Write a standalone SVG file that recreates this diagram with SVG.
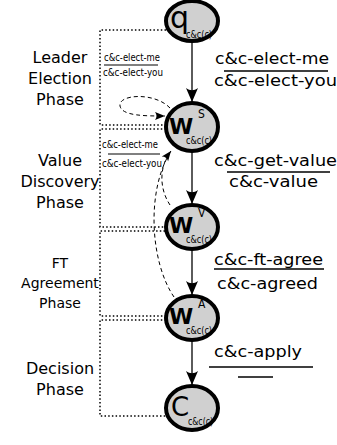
<svg xmlns="http://www.w3.org/2000/svg" width="337" height="445" viewBox="0 0 337 445">
  <defs>
    <style>
      .node ellipse { fill: #d0d0d0; stroke: #000; stroke-width: 4; }
      .big { font-family: "DejaVu Sans", "Liberation Sans", sans-serif; fill: #000; }
      .w { font-family: "DejaVu Sans", "Liberation Sans", sans-serif; font-weight: bold; font-size: 22px; fill: #000; }
      .cond { font-family: "DejaVu Sans Condensed", "DejaVu Sans", "Liberation Sans Narrow", sans-serif; font-stretch: condensed; fill: #000; }
      .phase { font-family: "DejaVu Sans", "Liberation Sans", sans-serif; font-size: 16px; fill: #000; text-anchor: middle; }
      .msg { font-family: "DejaVu Sans", "Liberation Sans", sans-serif; font-size: 16px; fill: #000; }
      .small { font-family: "DejaVu Sans Condensed", "DejaVu Sans", "Liberation Sans Narrow", sans-serif; font-stretch: condensed; font-size: 11px; fill: #000; }
      .bar { stroke: #000; stroke-width: 1.5; }
      .sbar { stroke: #000; stroke-width: 1; }
      .edge { stroke: #333; stroke-width: 1.6; fill: none; marker-end: url(#arrow); }
      .dash { stroke: #000; stroke-width: 1; fill: none; stroke-dasharray: 4 3; }
      .dot { stroke: #000; stroke-width: 1.5; fill: none; stroke-dasharray: 1.5 2.2; }
    </style>
    <marker id="arrow" markerUnits="userSpaceOnUse" markerWidth="16" markerHeight="14" refX="0" refY="0" viewBox="-15 -7 16 14" orient="auto">
      <path d="M0,0 L-14,-6 C-11,-2 -11,2 -14,6 Z" fill="#000"/>
    </marker>
    <marker id="arrowSmall" markerUnits="userSpaceOnUse" markerWidth="12" markerHeight="10" refX="0" refY="0" viewBox="-11 -5 12 10" orient="auto">
      <path d="M0,0 L-10,-4 C-8,-1.5 -8,1.5 -10,4 Z" fill="#000"/>
    </marker>
  </defs>

  <!-- phase brackets -->
  <g id="phases">
    <path class="dot" d="M166,30 H100 V125 H166"/>
    <path class="dot" d="M166,129 H100 V227 H165"/>
    <path class="dot" d="M165,231 H100 V316 H166"/>
    <path class="dot" d="M166,320 H100 V416 H166"/>
    <text class="phase" x="60" y="63">Leader</text>
    <text class="phase" x="60" y="84">Election</text>
    <text class="phase" x="60" y="105">Phase</text>
    <text class="phase" x="60" y="166">Value</text>
    <text class="phase" x="60" y="187">Discovery</text>
    <text class="phase" x="60" y="208">Phase</text>
    <text class="phase" x="60" y="268" style="font-size:14px">FT</text>
    <text class="phase" x="60" y="288" style="font-size:14px">Agreement</text>
    <text class="phase" x="60" y="308" style="font-size:14px">Phase</text>
    <text class="phase" x="60" y="374">Decision</text>
    <text class="phase" x="60" y="395">Phase</text>
  </g>

  <!-- connectors -->
  <g id="connectors">
    <line class="edge" x1="192" y1="42" x2="192" y2="102"/>
    <line class="edge" x1="192" y1="152" x2="192" y2="204"/>
    <line class="edge" x1="192" y1="250" x2="192" y2="295"/>
    <line class="edge" x1="192" y1="341" x2="192" y2="385"/>
    <!-- leader election self-loop -->
    <path class="dash" d="M170,108 C155,92 118,94 120,106 C122,116 145,116 165,116" marker-end="url(#arrowSmall)"/>
    <!-- returns to leader election -->
    <path class="dash" d="M170,205 C160,190 158,168 171,151" marker-end="url(#arrowSmall)"/>
    <path class="dash" d="M174,297 C150,262 146,190 171,151"/>
    <!-- message labels -->
    <text class="msg" x="215" y="64" textLength="114" lengthAdjust="spacingAndGlyphs">c&amp;c-elect-me</text>
    <line class="bar" x1="224" y1="71" x2="328" y2="71"/>
    <text class="msg" x="214" y="86" textLength="123" lengthAdjust="spacingAndGlyphs">c&amp;c-elect-you</text>
    <text class="msg" x="214" y="166" textLength="123" lengthAdjust="spacingAndGlyphs">c&amp;c-get-value</text>
    <line class="bar" x1="227" y1="172" x2="330" y2="172"/>
    <text class="msg" x="229" y="187" textLength="89" lengthAdjust="spacingAndGlyphs">c&amp;c-value</text>
    <text class="msg" x="214" y="265" textLength="109" lengthAdjust="spacingAndGlyphs">c&amp;c-ft-agree</text>
    <line class="bar" x1="214" y1="269" x2="324" y2="269"/>
    <text class="msg" x="217" y="289" textLength="101" lengthAdjust="spacingAndGlyphs">c&amp;c-agreed</text>
    <text class="msg" x="214" y="357" textLength="88" lengthAdjust="spacingAndGlyphs">c&amp;c-apply</text>
    <line class="bar" x1="209" y1="367" x2="313" y2="367"/>
    <line class="bar" x1="238" y1="377" x2="273" y2="377"/>
    <text class="small" x="104" y="61" textLength="56" lengthAdjust="spacingAndGlyphs">c&amp;c-elect-me</text>
    <line class="sbar" x1="104" y1="65" x2="158" y2="65"/>
    <text class="small" x="103" y="76" textLength="60" lengthAdjust="spacingAndGlyphs">c&amp;c-elect-you</text>
    <text class="small" x="102" y="148" textLength="56" lengthAdjust="spacingAndGlyphs">c&amp;c-elect-me</text>
    <line class="sbar" x1="108" y1="154" x2="160" y2="154"/>
    <text class="small" x="102" y="167" textLength="60" lengthAdjust="spacingAndGlyphs">c&amp;c-elect-you</text>
  </g>

  <g id="q" class="node">
    <ellipse cx="192" cy="21" rx="26" ry="20"/>
    <text class="big" x="170" y="28" font-size="30">q</text>
    <text class="cond" x="186" y="38" font-size="10" textLength="26" lengthAdjust="spacingAndGlyphs">c&amp;c(c)</text>
  </g>
  <g id="wS" class="node">
    <ellipse cx="192" cy="127" rx="26" ry="24"/>
    <text class="w" x="169" y="134">W</text>
    <text class="cond" x="198" y="118" font-size="12">S</text>
    <text class="cond" x="186" y="144" font-size="10" textLength="26" lengthAdjust="spacingAndGlyphs">c&amp;c(c)</text>
  </g>
  <g id="wV" class="node">
    <ellipse cx="192" cy="227" rx="26" ry="22"/>
    <text class="w" x="169" y="233">W</text>
    <text class="cond" x="198" y="217" font-size="12">V</text>
    <text class="cond" x="186" y="243" font-size="10" textLength="26" lengthAdjust="spacingAndGlyphs">c&amp;c(c)</text>
  </g>
  <g id="wA" class="node">
    <ellipse cx="192" cy="318" rx="26" ry="22"/>
    <text class="w" x="169" y="324">W</text>
    <text class="cond" x="198" y="308" font-size="12">A</text>
    <text class="cond" x="186" y="334" font-size="10" textLength="26" lengthAdjust="spacingAndGlyphs">c&amp;c(c)</text>
  </g>
  <g id="c" class="node">
    <ellipse cx="192" cy="408" rx="26" ry="22"/>
    <text class="big" x="171" y="416" font-size="26">C</text>
    <text class="cond" x="188" y="425" font-size="10" textLength="25" lengthAdjust="spacingAndGlyphs">c&amp;c(c)</text>
  </g>
</svg>
